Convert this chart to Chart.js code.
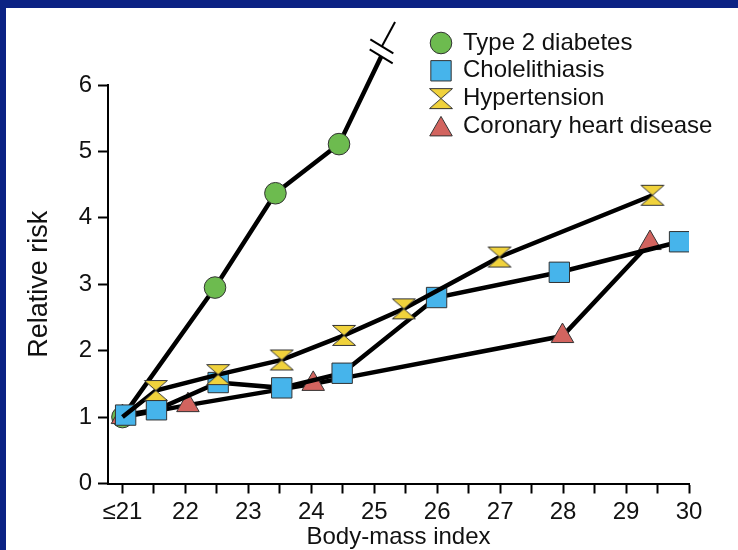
<!DOCTYPE html>
<html>
<head>
<meta charset="utf-8">
<script src="https://cdn.jsdelivr.net/npm/chart.js@4/dist/chart.umd.min.js"></script>
<style>
  body { margin: 0; background: #fff; }
  #frame {
    position: absolute; left: 0; top: 0;
    width: 732px; height: 542px;
    border-left: 6px solid #0b2284;
    border-top: 8px solid #0b2284;
    background: #fff;
  }
  canvas { display: block; }
</style>
</head>
<body>
<div id="frame"><canvas id="bmiRisk" width="732" height="542"></canvas></div>
<script>
// values
var xTickValues = [21, 21.5, 22, 22.5, 23, 23.5, 24, 24.5, 25, 25.5, 26, 26.5, 27, 27.5, 28, 28.5, 29, 29.5, 30];
var xTickLabels = ["≤21", "", "22", "", "23", "", "24", "", "25", "", "26", "", "27", "", "28", "", "29", "", "30"];

var bmiDiabetes = [21, 22.47, 23.43, 24.44, 25.11];
var rrDiabetes = [1.0, 2.95, 4.37, 5.11, 6.43];
var bmiDiabetesTail = [25.12, 25.33];
var rrDiabetesTail = [6.58, 6.95];

var bmiChole = [21.05, 21.54, 22.52, 23.53, 24.49, 25.99, 27.94, 29.85];
var rrChole = [1.03, 1.11, 1.52, 1.44, 1.66, 2.80, 3.18, 3.64];

var bmiHyper = [21, 21.53, 22.52, 23.53, 24.52, 25.47, 26.99, 29.42];
var rrHyper = [1.0, 1.40, 1.64, 1.86, 2.23, 2.63, 3.41, 4.34];

var bmiCoronary = [21, 22.04, 24.03, 27.99, 29.38];
var rrCoronary = [1.0, 1.18, 1.50, 2.22, 3.62];

function pairs(xs, ys) {
  return xs.map((x, i) => ({ x: x, y: ys[i] }));
}

function makeHourglass() {
  const c = document.createElement("canvas");
  c.width = 26;
  c.height = 23;
  const g = c.getContext("2d");
  g.beginPath();
  g.moveTo(1.5, 1.5);
  g.lineTo(24.5, 1.5);
  g.lineTo(13, 11.5);
  g.lineTo(24.5, 21.5);
  g.lineTo(1.5, 21.5);
  g.lineTo(13, 11.5);
  g.closePath();
  g.fillStyle = "#f0d23c";
  g.fill();
  g.strokeStyle = "#333";
  g.lineWidth = 1;
  g.stroke();
  return c;
}
const hourglass = makeHourglass();
const circleR = 10.8;

Chart.defaults.font.family = "'Liberation Sans', Arial, sans-serif";
Chart.defaults.color = "#111";

// legend stacked in the top right corner
const sideLegend = {
  id: "sideLegend",
  afterDraw(chart) {
    const ctx = chart.ctx;
    const items = chart.data.datasets.filter((d) => d.label);
    ctx.save();
    items.forEach((ds, i) => {
      const y = 35 + i * 27.8;
      const style = typeof ds.pointStyle === "function" ? hourglass : ds.pointStyle;
      const r = typeof ds.pointRadius === "number" ? ds.pointRadius : circleR;
      ctx.fillStyle = ds.pointBackgroundColor || "#fff";
      ctx.strokeStyle = ds.pointBorderColor || "#333";
      ctx.lineWidth = 1;
      Chart.helpers.drawPoint(ctx, {
        pointStyle: style,
        radius: r,
        borderWidth: 1,
        rotation: 0,
      }, 435, style === "triangle" ? y + 3 : y);
      ctx.fillStyle = "#111";
      ctx.font = "24px 'Liberation Sans', Arial, sans-serif";
      ctx.textBaseline = "middle";
      ctx.textAlign = "left";
      ctx.fillText(ds.label, 457, y);
    });
    ctx.restore();
  },
};

// "//" break on the diabetes line
const lineBreak = {
  id: "lineBreak",
  afterDatasetsDraw(chart) {
    const xs = chart.scales.x;
    const ys = chart.scales.y;
    const ctx = chart.ctx;
    const ends = [
      { x: bmiDiabetes[bmiDiabetes.length - 1], y: rrDiabetes[rrDiabetes.length - 1] },
      { x: bmiDiabetesTail[0], y: rrDiabetesTail[0] },
    ];
    ctx.save();
    ctx.strokeStyle = "#000";
    ctx.lineWidth = 2;
    ends.forEach((p) => {
      const px = xs.getPixelForValue(p.x);
      const py = ys.getPixelForValue(p.y);
      ctx.beginPath();
      ctx.moveTo(px - 11.5, py - 7);
      ctx.lineTo(px + 11.5, py + 7);
      ctx.stroke();
    });
    ctx.restore();
  },
};

const data_bmi = {
  datasets: [
    {
      label: "Type 2 diabetes",
      data: pairs(bmiDiabetes, rrDiabetes),
      borderColor: "#000",
      borderWidth: 4.5,
      pointStyle: "circle",
      pointRadius: (c) => (c.dataIndex === bmiDiabetes.length - 1 ? 0 : circleR),
      pointBackgroundColor: "#6dbb4f",
      pointBorderColor: "#333",
      pointBorderWidth: 1,
      clip: false,
      order: 3,
    },
    {
      data: pairs(bmiDiabetesTail, rrDiabetesTail),
      borderColor: "#000",
      borderWidth: 2,
      pointRadius: 0,
      clip: false,
      order: 3,
    },
    {
      label: "Cholelithiasis",
      data: pairs(bmiChole, rrChole),
      borderColor: "#000",
      borderWidth: 4.5,
      pointStyle: "rect",
      pointRadius: 14.4,
      pointBackgroundColor: "#46b4eb",
      pointBorderColor: "#333",
      pointBorderWidth: 1,
      order: 1,
    },
    {
      label: "Hypertension",
      data: pairs(bmiHyper, rrHyper),
      borderColor: "#000",
      borderWidth: 4.5,
      // first marker sits under the shared blue square at BMI ≤21
      pointStyle: (c) => (c.dataIndex === 0 ? false : hourglass),
      pointRadius: 11,
      pointBackgroundColor: "#f0d23c",
      pointBorderColor: "#333",
      order: 0,
    },
    {
      label: "Coronary heart disease",
      data: pairs(bmiCoronary, rrCoronary),
      borderColor: "#000",
      borderWidth: 4.5,
      pointStyle: "triangle",
      pointRadius: 13,
      pointBackgroundColor: "#d2645f",
      pointBorderColor: "#333",
      pointBorderWidth: 1,
      order: 2,
    },
  ],
};

const config_bmi = {
  type: "line",
  data: data_bmi,
  options: {
    responsive: false,
    animation: false,
    events: [],
    layout: { padding: { left: 0, top: 77, right: 49, bottom: 0 } },
    plugins: {
      legend: { display: false },
      tooltip: { enabled: false },
    },
    scales: {
      x: {
        type: "linear",
        min: 20.77,
        max: 30,
        afterBuildTicks: (s) => {
          s.ticks = xTickValues.map((v) => ({ value: v }));
        },
        afterFit: (s) => {
          s.height = 66.5;
        },
        border: { color: "#000", width: 2 },
        grid: { drawOnChartArea: false, tickLength: 10, tickColor: "#000", tickWidth: 2 },
        ticks: {
          autoSkip: false,
          maxRotation: 0,
          padding: 4,
          font: { size: 24 },
          callback: (v, i) => xTickLabels[i],
        },
        title: {
          display: true,
          text: "Body-mass index",
          font: { size: 24, lineHeight: 1 },
          padding: { top: 0, bottom: 1 },
        },
      },
      y: {
        min: 0,
        max: 6,
        afterFit: (s) => {
          s.width = 102;
        },
        border: { color: "#000", width: 2 },
        grid: { drawOnChartArea: false, tickLength: 10, tickColor: "#000", tickWidth: 2 },
        ticks: { stepSize: 1, padding: 6, font: { size: 24 } },
        title: {
          display: true,
          text: "Relative risk",
          font: { size: 27, lineHeight: 1 },
          padding: { top: 20, bottom: 0 },
        },
      },
    },
  },
  plugins: [lineBreak, sideLegend],
};

const bmiRisk = new Chart(document.getElementById("bmiRisk"), config_bmi);
</script>
</body>
</html>
